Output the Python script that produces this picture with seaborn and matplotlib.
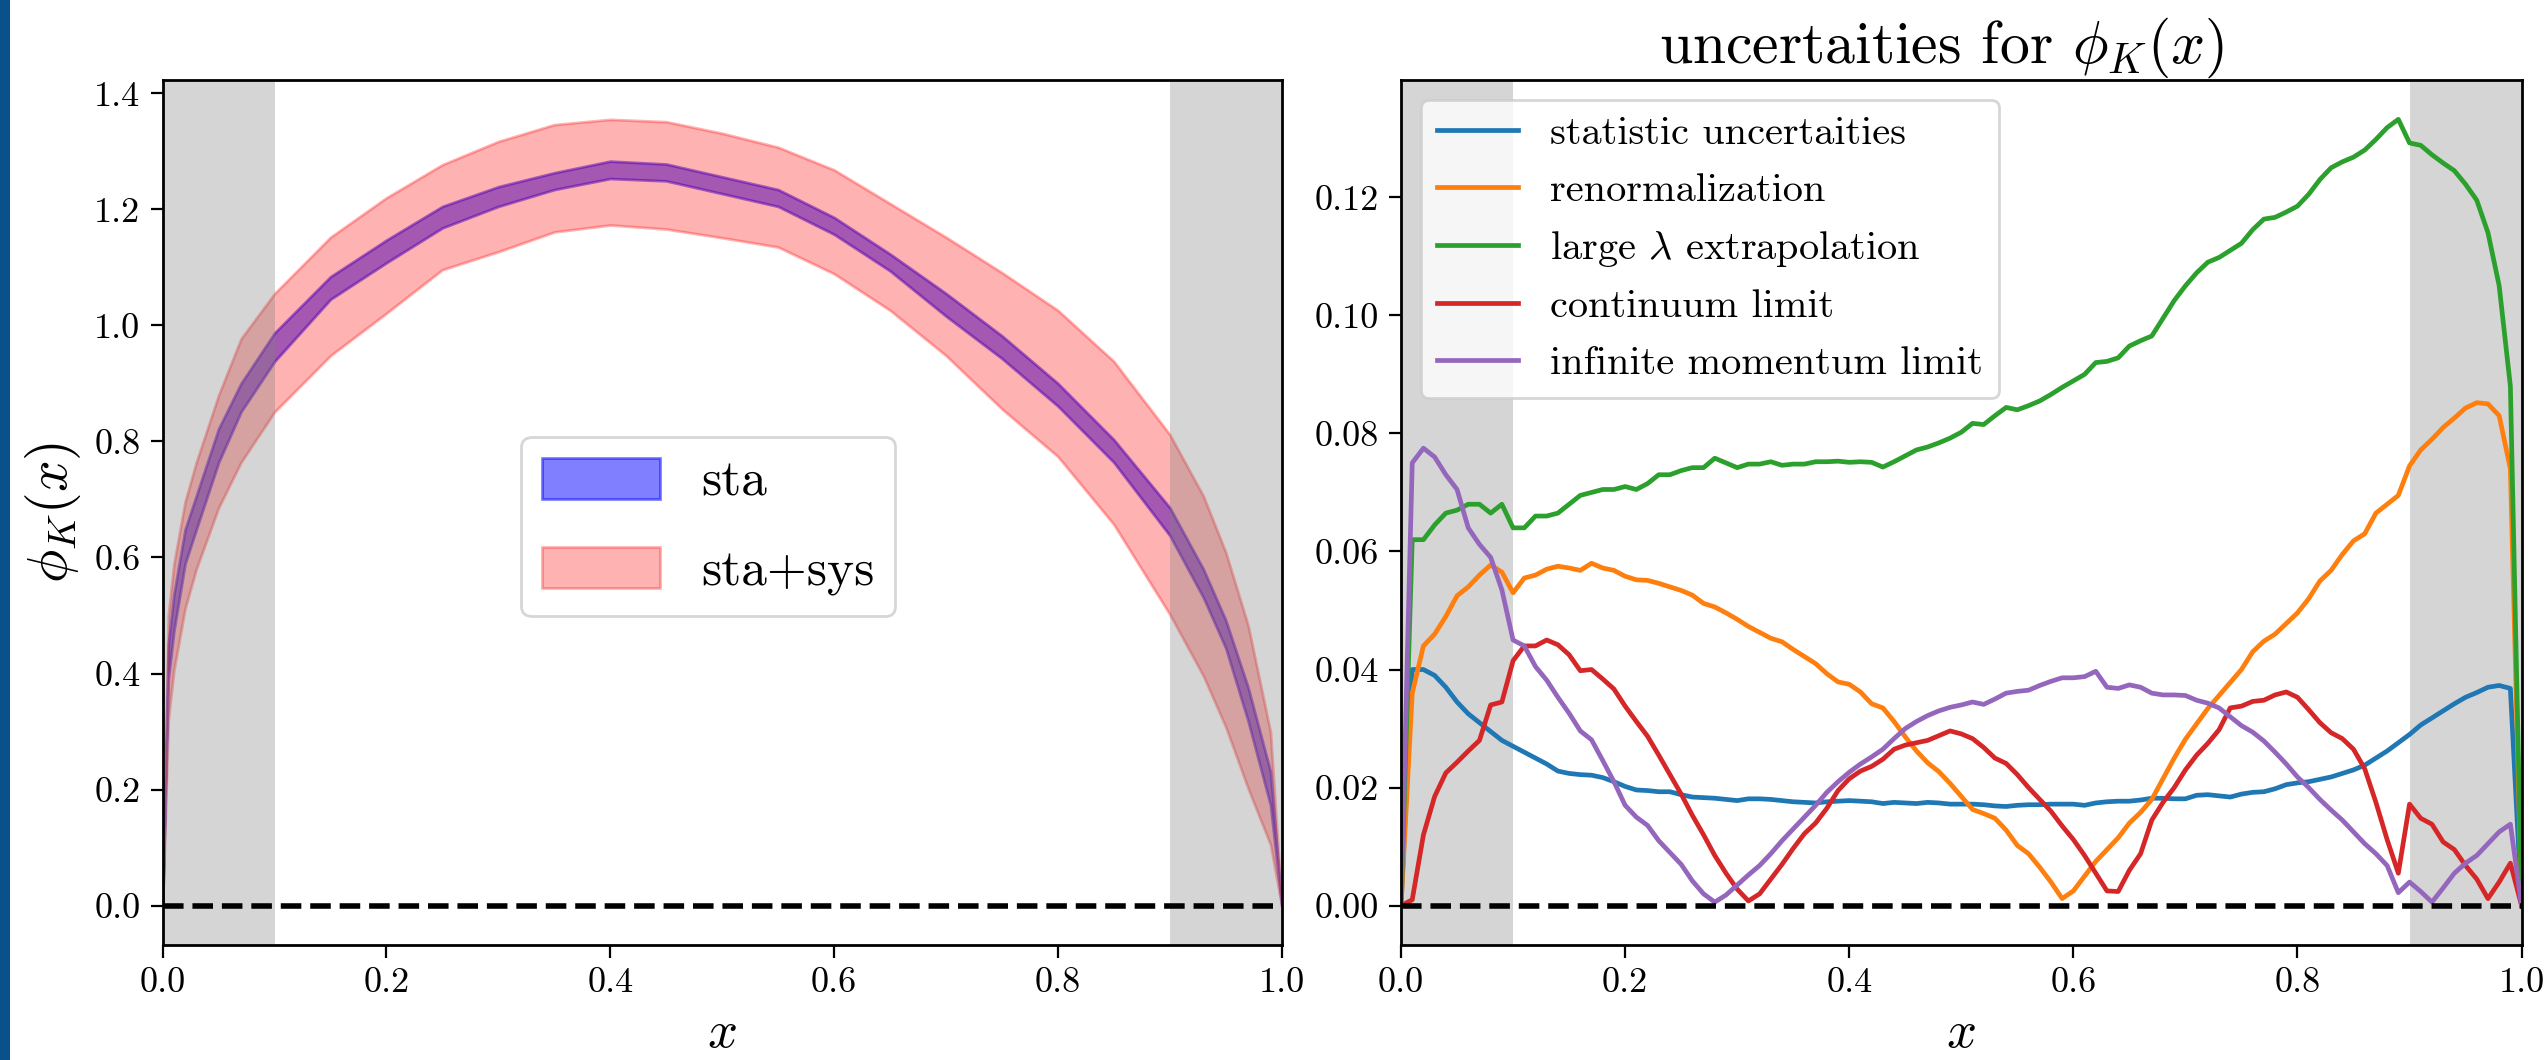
import numpy as np
import pandas as pd
import seaborn as sns
import matplotlib.pyplot as plt
from matplotlib.patches import Rectangle

# ---- left panel: band edges of phi_K(x) ----
x_band = [0.0, 0.005, 0.01, 0.02, 0.03, 0.05, 0.07, 0.10, 0.15, 0.20, 0.25, 0.30, 0.35,
          0.40, 0.45, 0.50, 0.55, 0.60, 0.65, 0.70, 0.75, 0.80, 0.85, 0.90, 0.93, 0.95,
          0.97, 0.99, 1.0]
sta_lo = [0.0, 0.39, 0.473, 0.589, 0.648, 0.764, 0.851, 0.938, 1.045, 1.108, 1.168, 1.205, 1.234,
          1.253, 1.249, 1.227, 1.205, 1.157, 1.094, 1.016, 0.943, 0.861, 0.764, 0.638, 0.531, 0.444,
          0.318, 0.173, 0.0]
sta_hi = [0.0, 0.45, 0.536, 0.648, 0.706, 0.822, 0.900, 0.987, 1.084, 1.147, 1.205, 1.239, 1.263,
          1.283, 1.278, 1.256, 1.234, 1.186, 1.123, 1.055, 0.982, 0.900, 0.803, 0.686, 0.580, 0.492,
          0.376, 0.231, 0.0]
tot_lo = [0.0, 0.32, 0.405, 0.512, 0.580, 0.686, 0.764, 0.851, 0.948, 1.021, 1.096, 1.127, 1.161,
          1.173, 1.166, 1.151, 1.135, 1.089, 1.026, 0.948, 0.856, 0.774, 0.657, 0.502, 0.396, 0.308,
          0.202, 0.105, 0.0]
tot_hi = [0.0, 0.50, 0.589, 0.696, 0.764, 0.880, 0.977, 1.055, 1.152, 1.220, 1.277, 1.317, 1.346,
          1.355, 1.351, 1.331, 1.307, 1.268, 1.210, 1.152, 1.091, 1.026, 0.938, 0.812, 0.706, 0.609,
          0.483, 0.299, 0.0]

# ---- right panel: individual uncertainties on a 0.01 grid in x ----
x_err = np.linspace(0, 1, 101)
err_stat = [0.0, 0.0400, 0.0400, 0.0390, 0.0370, 0.0345, 0.0325, 0.0310, 0.0295, 0.0280,
            0.0270, 0.0260, 0.0250, 0.0240, 0.0228, 0.0224, 0.0222, 0.0221, 0.0217, 0.0210,
            0.0202, 0.0196, 0.0195, 0.0193, 0.0193, 0.0188, 0.0184, 0.0183, 0.0182, 0.0180,
            0.0178, 0.0181, 0.0181, 0.0180, 0.0178, 0.0176, 0.0175, 0.0174, 0.0176, 0.0177,
            0.0178, 0.0177, 0.0176, 0.0173, 0.0175, 0.0174, 0.0173, 0.0175, 0.0174, 0.0172,
            0.0172, 0.0172, 0.0171, 0.0169, 0.0168, 0.0170, 0.0171, 0.0171, 0.0172, 0.0172,
            0.0172, 0.0170, 0.0174, 0.0176, 0.0177, 0.0177, 0.0179, 0.0182, 0.0182, 0.0181,
            0.0181, 0.0187, 0.0188, 0.0186, 0.0184, 0.0189, 0.0192, 0.0193, 0.0198, 0.0205,
            0.0208, 0.0210, 0.0214, 0.0218, 0.0224, 0.0230, 0.0238, 0.0250, 0.0262, 0.0276,
            0.0290, 0.0306, 0.0318, 0.0330, 0.0342, 0.0353, 0.0361, 0.0370, 0.0373, 0.0368,
            0.0]
err_renorm = [0.0, 0.0360, 0.0440, 0.0460, 0.0490, 0.0525, 0.0540, 0.0560, 0.0577, 0.0565,
              0.0530, 0.0555, 0.0560, 0.0570, 0.0575, 0.0572, 0.0568, 0.0580, 0.0572, 0.0568,
              0.0558, 0.0552, 0.0551, 0.0546, 0.0540, 0.0534, 0.0526, 0.0512, 0.0506, 0.0496,
              0.0485, 0.0473, 0.0463, 0.0453, 0.0447, 0.0434, 0.0422, 0.0410, 0.0393, 0.0379,
              0.0375, 0.0362, 0.0342, 0.0335, 0.0312, 0.0286, 0.0262, 0.0242, 0.0227, 0.0207,
              0.0185, 0.0163, 0.0156, 0.0148, 0.0128, 0.0102, 0.0088, 0.0065, 0.0040, 0.0012,
              0.0025, 0.0050, 0.0075, 0.0095, 0.0115, 0.0140, 0.0158, 0.0180, 0.0215, 0.0250,
              0.0282, 0.0308, 0.0334, 0.0356, 0.0378, 0.0400, 0.0430, 0.0448, 0.0460, 0.0478,
              0.0496, 0.0520, 0.0550, 0.0568, 0.0595, 0.0618, 0.0630, 0.0665, 0.0680, 0.0695,
              0.0745, 0.0772, 0.0790, 0.0810, 0.0826, 0.0843, 0.0852, 0.0850, 0.0830, 0.0740,
              0.0]
err_lambda = [0.0, 0.0620, 0.0620, 0.0645, 0.0665, 0.0670, 0.0680, 0.0680, 0.0665, 0.0680,
              0.0640, 0.0640, 0.0660, 0.0660, 0.0665, 0.0680, 0.0695, 0.0700, 0.0705, 0.0705,
              0.0710, 0.0705, 0.0715, 0.0730, 0.0730, 0.0737, 0.0742, 0.0742, 0.0758, 0.0750,
              0.0742, 0.0748, 0.0748, 0.0752, 0.0746, 0.0748, 0.0748, 0.0752, 0.0752, 0.0753,
              0.0751, 0.0752, 0.0751, 0.0743, 0.0752, 0.0762, 0.0772, 0.0777, 0.0784, 0.0792,
              0.0802, 0.0817, 0.0815, 0.0830, 0.0844, 0.0840, 0.0847, 0.0855, 0.0866, 0.0878,
              0.0889, 0.0900, 0.0920, 0.0922, 0.0928, 0.0948, 0.0957, 0.0965, 0.0995, 0.1025,
              0.1050, 0.1072, 0.1090, 0.1098, 0.1110, 0.1122, 0.1145, 0.1163, 0.1166, 0.1175,
              0.1185, 0.1205, 0.1230, 0.1250, 0.1260, 0.1268, 0.1280, 0.1298, 0.1318, 0.1332,
              0.1292, 0.1288, 0.1272, 0.1258, 0.1245, 0.1222, 0.1195, 0.1140, 0.1050, 0.0880,
              0.0]
err_cont = [0.0, 0.0010, 0.0120, 0.0185, 0.0225, 0.0243, 0.0262, 0.0280, 0.0340, 0.0345,
            0.0415, 0.0440, 0.0440, 0.0450, 0.0442, 0.0425, 0.0398, 0.0400, 0.0384, 0.0367,
            0.0338, 0.0312, 0.0287, 0.0255, 0.0222, 0.0189, 0.0153, 0.0120, 0.0085, 0.0055,
            0.0028, 0.0008, 0.0020, 0.0045, 0.0070, 0.0097, 0.0122, 0.0140, 0.0165, 0.0195,
            0.0215, 0.0228, 0.0236, 0.0248, 0.0265, 0.0272, 0.0276, 0.0280, 0.0288, 0.0296,
            0.0291, 0.0283, 0.0268, 0.0250, 0.0241, 0.0222, 0.0200, 0.0180, 0.0160, 0.0135,
            0.0112, 0.0085, 0.0055, 0.0025, 0.0024, 0.0060, 0.0088, 0.0145, 0.0175, 0.0200,
            0.0230, 0.0255, 0.0275, 0.0298, 0.0335, 0.0338, 0.0346, 0.0348, 0.0357, 0.0362,
            0.0353, 0.0332, 0.0310, 0.0293, 0.0283, 0.0265, 0.0232, 0.0175, 0.0112, 0.0055,
            0.0172, 0.0148, 0.0138, 0.0108, 0.0095, 0.0068, 0.0045, 0.0012, 0.0040, 0.0072,
            0.0]
err_mom = [0.0, 0.0750, 0.0775, 0.0760, 0.0730, 0.0705, 0.0640, 0.0612, 0.0590, 0.0535,
           0.0450, 0.0440, 0.0405, 0.0382, 0.0353, 0.0326, 0.0296, 0.0281, 0.0246, 0.0210,
           0.0170, 0.0150, 0.0136, 0.0110, 0.0090, 0.0070, 0.0042, 0.0020, 0.0006, 0.0018,
           0.0035, 0.0052, 0.0068, 0.0088, 0.0110, 0.0130, 0.0150, 0.0170, 0.0192, 0.0210,
           0.0226, 0.0240, 0.0252, 0.0265, 0.0283, 0.0300, 0.0312, 0.0322, 0.0330, 0.0336,
           0.0340, 0.0345, 0.0341, 0.0350, 0.0360, 0.0363, 0.0365, 0.0373, 0.0380, 0.0386,
           0.0386, 0.0388, 0.0397, 0.0370, 0.0368, 0.0374, 0.0370, 0.0360, 0.0357, 0.0357,
           0.0356, 0.0348, 0.0343, 0.0335, 0.0320, 0.0305, 0.0294, 0.0279, 0.0260, 0.0240,
           0.0218, 0.0200, 0.0180, 0.0162, 0.0145, 0.0125, 0.0105, 0.0088, 0.0068, 0.0022,
           0.0040, 0.0024, 0.0006, 0.0030, 0.0055, 0.0072, 0.0085, 0.0105, 0.0125, 0.0138,
           0.0]

sources = ['statistic uncertaities', 'renormalization', r'large $\lambda$ extrapolation',
           'continuum limit', 'infinite momentum limit']
colors = ['#1f77b4', '#ff7f0e', '#2ca02c', '#d62728', '#9467bd']

plt.rcParams.update({
    'font.family': 'cmr10',
    'mathtext.fontset': 'cm',
    'axes.unicode_minus': False,
    'axes.linewidth': 1.0,
})

fig = plt.figure(figsize=(12.725, 5.3), dpi=200)
ax1 = fig.add_axes([0.0639, 0.1085, 0.4397, 0.8160])
ax2 = fig.add_axes([0.5505, 0.1085, 0.4403, 0.8160])

# slide border on the left edge
fig.add_artist(Rectangle((0, 0), 10 / 2545, 1, transform=fig.transFigure,
                         color='#0b5189', lw=0))

# left: distribution amplitude with bands
ax1.fill_between(x_band, sta_lo, sta_hi, color='blue', alpha=0.5, label='sta')
ax1.fill_between(x_band, tot_lo, tot_hi, color='red', alpha=0.3, label='sta+sys')
ax1.axvspan(0, 0.1, color='gray', alpha=0.33, lw=0)
ax1.axvspan(0.9, 1.0, color='gray', alpha=0.33, lw=0)
ax1.axhline(0, color='k', ls='--', lw=2)
ax1.set_xlim(0, 1)
ax1.set_xlabel('$x$', fontsize=19)
ax1.set_ylabel(r'$\phi_K(x)$', fontsize=20)
ax1.legend(loc='center', bbox_to_anchor=(0.4875, 0.4835), fontsize=18.5,
           handlelength=2.3, handleheight=0.85, labelspacing=0.8)

# right: breakdown of uncertainties
df = pd.DataFrame({
    'x': np.tile(x_err, len(sources)),
    'err': np.concatenate([err_stat, err_renorm, err_lambda, err_cont, err_mom]),
    'source': np.repeat(sources, len(x_err)),
})
ax2.axvspan(0, 0.1, color='gray', alpha=0.33, lw=0)
ax2.axvspan(0.9, 1.0, color='gray', alpha=0.33, lw=0)
sns.lineplot(data=df, x='x', y='err', hue='source', hue_order=sources,
             palette=colors, estimator=None, linewidth=1.7, ax=ax2)
ax2.axhline(0, color='k', ls='--', lw=2)
ax2.set_xlim(0, 1)
ax2.set_xlabel('$x$', fontsize=19)
ax2.set_ylabel('')
ax2.set_title(r'uncertaities for $\phi_K(x)$', fontsize=21.5, x=0.482)
leg = ax2.get_legend()
handles = leg.legend_handles
labels = [t.get_text() for t in leg.get_texts()]
ax2.legend(handles, labels, loc='upper left', fontsize=14.5)

for ax in (ax1, ax2):
    ax.tick_params(labelsize=13, length=4.5)

fig.savefig('out.png', dpi=200)
